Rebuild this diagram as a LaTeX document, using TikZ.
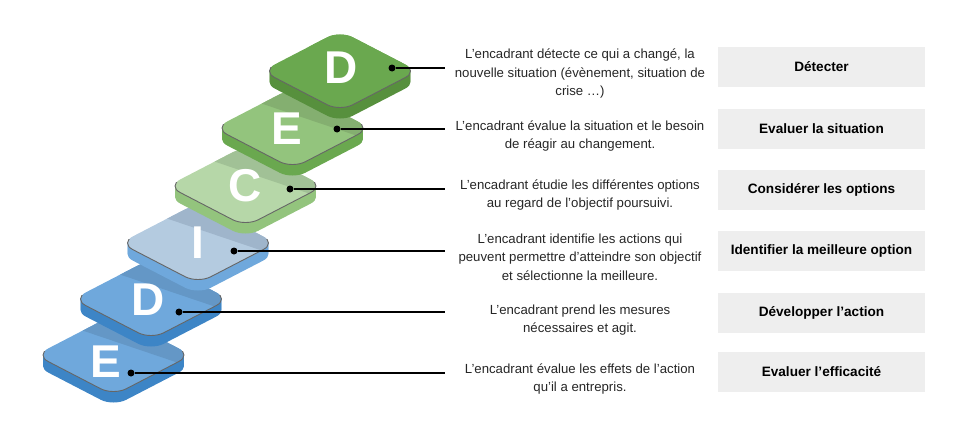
\documentclass[tikz,border=0pt]{standalone}
\usepackage{fontspec}
\setmainfont{Liberation Sans}

\definecolor{vertA}{HTML}{6AA84F}
\definecolor{vertAcote}{HTML}{57903D}
\definecolor{vertB}{HTML}{93C47D}
\definecolor{vertBombre}{HTML}{84AF70}
\definecolor{vertC}{HTML}{B6D7A8}
\definecolor{vertCombre}{HTML}{A1C196}
\definecolor{bleuI}{HTML}{B4CBE0}
\definecolor{bleuIombre}{HTML}{9FB5CB}
\definecolor{bleuD}{HTML}{6FA8DC}
\definecolor{bleuDombre}{HTML}{6497C6}
\definecolor{bleuDcote}{HTML}{3D85C6}
\definecolor{boite}{HTML}{EEEEEE}

\tikzset{iso/.style 2 args={shift={(#1,#2)},yscale=0.518,rotate=45}}

% carre arrondi vu en perspective
\newcommand{\formedalle}[1]{%
  \path[#1] (-37.1,55.1) -- (37.1,55.1)
    arc[start angle=-90,end angle=0,radius=18pt] -- (55.1,-37.1)
    arc[start angle=0,end angle=90,radius=18pt] -- (-37.1,-55.1)
    arc[start angle=90,end angle=180,radius=18pt] -- (-55.1,37.1)
    arc[start angle=180,end angle=270,radius=18pt] -- cycle;}

% dalle : x, y, dessus, ombre, cote
\newcommand{\dalle}[5]{%
  \foreach \d in {11,10,...,1}
    {\formedalle{fill=#5,iso={#1}{#2+\d}}}
  \formedalle{fill=#3,iso={#1}{#2}}
  \begin{scope}
    \formedalle{clip,iso={#1}{#2}}
    \fill[#4] (#1-74,#2-39) -- (#1+74,#2+11)
      -- (#1+95,#2-60) -- (#1-74,#2-60) -- cycle;
  \end{scope}
  \begin{scope}
    \clip (#1-80,#2-4) rectangle (#1+80,#2+45);
    \formedalle{draw=black!60,line width=0.9pt,iso={#1}{#2}}
  \end{scope}
}

\begin{document}
\begin{tikzpicture}[x=1pt,y=-1pt,
    lettre/.style={text=white,font=\fontsize{46}{46}\selectfont\bfseries,inner sep=0pt},
    point/.style={circle,fill=black,inner sep=0pt,minimum size=7pt},
    lien/.style={line width=1.4pt},
    texte/.style={align=center,text=black!85,font=\fontsize{13.2}{18.5}\selectfont,inner sep=0pt},
    etape/.style={fill=boite,minimum width=207pt,minimum height=40pt,inner sep=0pt,
      font=\fontsize{13.6}{15}\selectfont\bfseries}]
  \useasboundingbox (0,0) rectangle (961,423);

  % les dalles, de bas en haut
  \dalle{113.5}{355}{bleuD}{bleuDombre}{bleuDcote}
  \dalle{151}{299}{bleuD}{bleuDombre}{bleuDcote}
  \dalle{198}{243}{bleuI}{bleuIombre}{bleuD}
  \dalle{245.5}{186}{vertC}{vertCombre}{vertB}
  \dalle{292.5}{128}{vertB}{vertBombre}{vertA}
  \dalle{340}{71}{vertA}{vertA}{vertAcote}

  % les lettres
  \node[lettre] (l1) at (341,68) {D};
  \node[lettre] (l2) at (287,129) {E};
  \node[lettre] (l3) at (245,186) {C};
  \node[lettre] (l4) at (198,243) {I};
  \node[lettre] (l5) at (148,300) {D};
  \node[lettre] (l6) at (106,362) {E};

  % points et traits
  \node[point] (p1) at (392,68) {};
  \node[point] (p2) at (337,129) {};
  \node[point] (p3) at (290,189) {};
  \node[point] (p4) at (234,251) {};
  \node[point] (p5) at (179,312) {};
  \node[point] (p6) at (131,373) {};
  \coordinate (f1) at (445,68);
  \coordinate (f2) at (445,129);
  \coordinate (f3) at (445,189);
  \coordinate (f4) at (445,251);
  \coordinate (f5) at (445,312);
  \coordinate (f6) at (445,373);
  \draw[lien] (p1) -- (f1);
  \draw[lien] (p2) -- (f2);
  \draw[lien] (p3) -- (f3);
  \draw[lien] (p4) -- (f4);
  \draw[lien] (p5) -- (f5);
  \draw[lien] (p6) -- (f6);

  % descriptions
  \node[texte] (t1) at (580,74) {L’encadrant détecte ce qui a changé, la\\nouvelle situation (évènement, situation de\\crise …)};
  \node[texte] (t2) at (580,136) {L’encadrant évalue la situation et le besoin\\de réagir au changement.};
  \node[texte] (t3) at (580,195) {L’encadrant étudie les différentes options\\au regard de l'objectif poursuivi.};
  \node[texte] (t4) at (580,257) {L’encadrant identifie les actions qui\\peuvent permettre d’atteindre son objectif\\et sélectionne la meilleure.};
  \node[texte] (t5) at (580,320) {L’encadrant prend les mesures\\nécessaires et agit.};
  \node[texte] (t6) at (580,379) {L’encadrant évalue les effets de l’action\\qu’il a entrepris.};

  % etapes
  \node[etape] (b1) at (821.5,67) {Détecter};
  \node[etape] (b2) at (821.5,129) {Evaluer la situation};
  \node[etape] (b3) at (821.5,190) {Considérer les options};
  \node[etape] (b4) at (821.5,251) {Identifier la meilleure option};
  \node[etape] (b5) at (821.5,312.5) {Développer l’action};
  \node[etape] (b6) at (821.5,372) {Evaluer l’efficacité};
\end{tikzpicture}
\end{document}
